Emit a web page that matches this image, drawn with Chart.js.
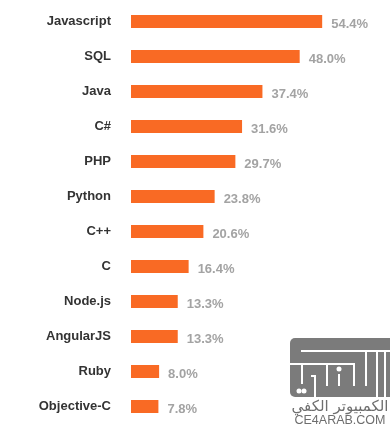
<!DOCTYPE html>
<html>
<head>
<meta charset="utf-8">
<script src="https://cdn.jsdelivr.net/npm/chart.js@4"></script>
<style>
  html, body { margin: 0; padding: 0; background: #fff; }
  #wrap { width: 390px; height: 427px; position: relative; }
</style>
</head>
<body>
<div id="wrap"><canvas id="myChart"></canvas></div>
<script>
	// 데이터
	var languages = [ 'Javascript', 'SQL', 'Java', 'C#', 'PHP', 'Python', 'C++', 'C',
			'Node.js', 'AngularJS', 'Ruby', 'Objective-C' ];
	var shares = [ 54.4, 48.0, 37.4, 31.6, 29.7, 23.8, 20.6, 16.4, 13.3, 13.3, 8.0, 7.8 ];
	var watermarkTexts = [ 'الكمبيوتر الكفي', 'CE4ARAB.COM' ];

	// 막대 끝 값 표시
	var valueLabels = {
		id : 'valueLabels',
		afterDatasetsDraw : function(chart) {
			var c = chart.ctx;
			var meta = chart.getDatasetMeta(0);
			c.save();
			c.font = 'bold 13px "Liberation Sans", Arial, sans-serif';
			c.fillStyle = '#a3a3a3';
			c.textAlign = 'left';
			c.textBaseline = 'middle';
			meta.data.forEach(function(bar, i) {
				c.fillText(shares[i].toFixed(1) + '%', bar.x + 9, bar.y + 3);
			});
			c.restore();
		}
	};

	// 워터마크 (로고 + 글자)
	var watermark = {
		id : 'watermark',
		afterDraw : function(chart) {
			var c = chart.ctx;
			c.save();
			c.fillStyle = '#7b7b7b';
			c.beginPath();
			c.roundRect(290, 338, 106, 59, 5);
			c.fill();
			c.strokeStyle = '#fff';
			c.lineWidth = 2;
			c.beginPath();
			c.moveTo(301, 351); c.lineTo(390, 351);
			c.moveTo(366, 351); c.lineTo(366, 386);
			c.moveTo(377, 351); c.lineTo(377, 397);
			c.moveTo(385, 351); c.lineTo(385, 397);
			c.moveTo(290, 364); c.lineTo(354, 364); c.lineTo(354, 386);
			c.moveTo(302, 364); c.lineTo(302, 384);
			c.moveTo(311, 376); c.lineTo(315, 376); c.lineTo(315, 397);
			c.moveTo(327, 364); c.lineTo(327, 386);
			c.moveTo(339, 374); c.lineTo(339, 386);
			c.stroke();
			c.fillStyle = '#fff';
			[ [ 339, 369 ], [ 299, 391 ], [ 304, 391 ] ].forEach(function(p) {
				c.beginPath();
				c.arc(p[0], p[1], 2.5, 0, Math.PI * 2);
				c.fill();
			});
			c.fillStyle = '#6e6e6e';
			c.textAlign = 'center';
			c.textBaseline = 'middle';
			c.font = '15px "DejaVu Sans", sans-serif';
			c.fillText(watermarkTexts[0], 340, 407);
			c.font = '12.5px "Liberation Sans", Arial, sans-serif';
			c.fillText(watermarkTexts[1], 340, 421);
			c.restore();
		}
	};

	var ctx = document.getElementById('myChart');
	var myChart = new Chart(ctx, {
		type : 'bar',
		data : {
			labels : languages,
			datasets : [ {
				label : 'share',
				data : shares,
				backgroundColor : '#f96a24',
				categoryPercentage : 1,
				barPercentage : 0.37
			} ]
		},
		plugins : [ valueLabels, watermark ],
		options : {
			indexAxis : 'y',
			responsive : true,
			maintainAspectRatio : false,
			animation : false,
			layout : {
				padding : { top : 4, bottom : 3, left : 0, right : 13 }
			},
			plugins : {
				legend : { display : false },
				tooltip : { enabled : false }
			},
			scales : {
				x : {
					display : false,
					min : 0,
					max : 70
				},
				y : {
					grid : { display : false, drawTicks : false },
					border : { display : false },
					afterFit : function(scale) {
						scale.width = 131;
						scale.paddingTop = 0;
						scale.paddingBottom = 0;
					},
					ticks : {
						padding : 20,
						color : '#333',
						font : { family : '"Liberation Sans", Arial, sans-serif', size : 13, weight : 'bold' }
					}
				}
			}
		}
	});
</script>
</body>
</html>
